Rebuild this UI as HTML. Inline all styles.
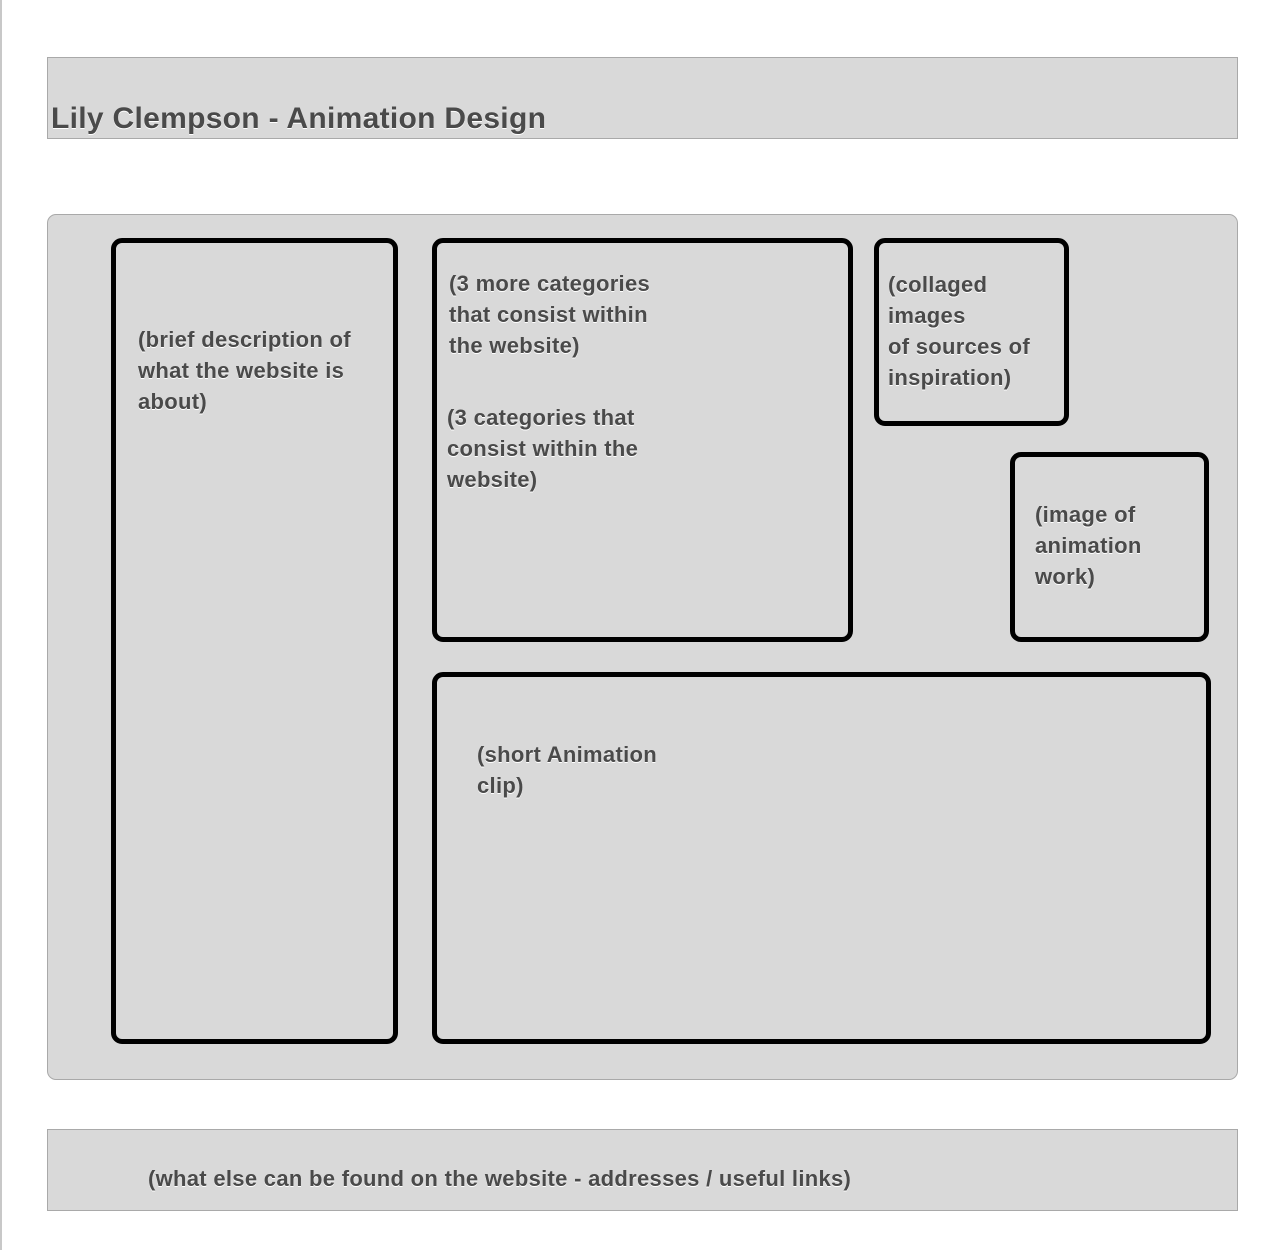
<!DOCTYPE html>
<html><head><style>
body{margin:0;width:1276px;height:1250px;background:#fff;position:relative;overflow:hidden;font-family:"Liberation Sans","DejaVu Sans",sans-serif;}
div{position:absolute;box-sizing:border-box;}
.g{background:#d9d9d9;border:1px solid #a9a9a9;}
.b{border:5px solid #000;border-radius:11px;}
.t{color:#4a4a4a;font-weight:bold;font-size:22px;letter-spacing:0.3px;line-height:31px;white-space:nowrap;text-shadow:0 1px 0 #fff;}
</style></head><body>
<div style="left:0;top:0;width:2px;height:1250px;background:#c8c8c8"></div>
<div class="g" style="left:47px;top:57px;width:1191px;height:82px"></div>
<div class="t" style="left:51px;top:101px;font-size:30px;letter-spacing:0.3px;line-height:36px">Lily Clempson - Animation Design</div>
<div class="g" style="left:47px;top:214px;width:1191px;height:866px;border-radius:9px"></div>
<div class="b" style="left:111px;top:238px;width:287px;height:806px"></div>
<div class="b" style="left:432px;top:238px;width:421px;height:404px"></div>
<div class="b" style="left:874px;top:238px;width:195px;height:188px"></div>
<div class="b" style="left:1010px;top:452px;width:199px;height:190px"></div>
<div class="b" style="left:432px;top:672px;width:779px;height:372px"></div>
<div class="t" style="left:138px;top:324px">(brief description of<br>what the website is<br>about)</div>
<div class="t" style="left:449px;top:268px">(3 more categories<br>that consist within<br>the website)</div>
<div class="t" style="left:447px;top:402px">(3 categories that<br>consist within the<br>website)</div>
<div class="t" style="left:888px;top:269px">(collaged<br>images<br>of sources of<br>inspiration)</div>
<div class="t" style="left:1035px;top:499px">(image of<br>animation<br>work)</div>
<div class="t" style="left:477px;top:739px">(short Animation<br>clip)</div>
<div class="g" style="left:47px;top:1129px;width:1191px;height:82px"></div>
<div class="t" style="left:148px;top:1163px">(what else can be found on the website - addresses / useful links)</div>
</body></html>
